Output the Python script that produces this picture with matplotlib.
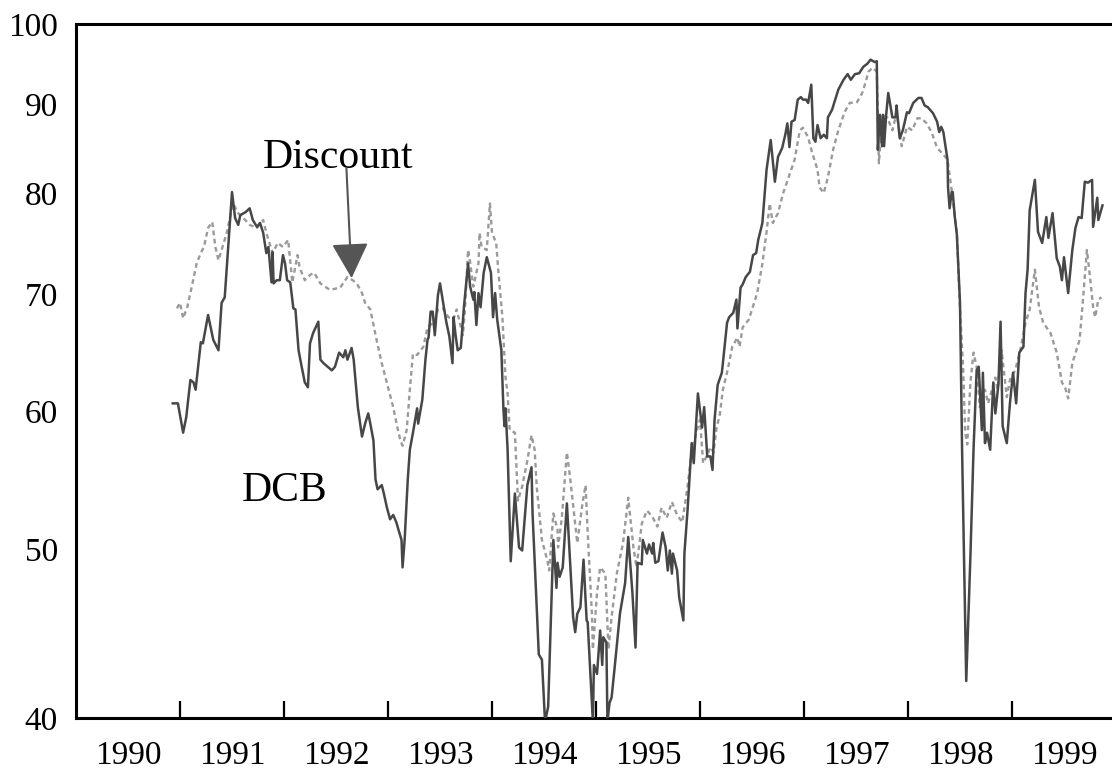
import matplotlib
matplotlib.use("Agg")
import matplotlib.pyplot as plt
from matplotlib.ticker import FixedLocator, NullFormatter, FixedFormatter, NullLocator

plt.rcParams['font.family'] = ['Liberation Serif', 'DejaVu Serif']

# DCB index (solid line), time in fractional years
dcb_t = [1990.93, 1990.98, 1991.03, 1991.06, 1991.10, 1991.13, 1991.15, 1991.20, 1991.22, 1991.27,
         1991.32, 1991.37, 1991.40, 1991.43, 1991.50, 1991.53, 1991.56, 1991.58, 1991.63, 1991.67,
         1991.70, 1991.74, 1991.77, 1991.80, 1991.83, 1991.85, 1991.88, 1991.89, 1991.90, 1991.93,
         1991.96, 1991.99, 1992.01, 1992.03, 1992.06, 1992.09, 1992.11, 1992.14, 1992.17, 1992.20,
         1992.23, 1992.25, 1992.28, 1992.33, 1992.35, 1992.38, 1992.42, 1992.46, 1992.49, 1992.53,
         1992.57, 1992.59, 1992.61, 1992.65, 1992.67, 1992.71, 1992.75, 1992.78, 1992.81, 1992.83,
         1992.86, 1992.88, 1992.90, 1992.94, 1992.96, 1992.99, 1993.02, 1993.05, 1993.08, 1993.10,
         1993.13, 1993.14, 1993.16, 1993.19, 1993.21, 1993.24, 1993.28, 1993.29, 1993.33, 1993.36,
         1993.38, 1993.39, 1993.41, 1993.43, 1993.45, 1993.48, 1993.50, 1993.53, 1993.56, 1993.59,
         1993.62, 1993.63, 1993.65, 1993.67, 1993.70, 1993.73, 1993.77, 1993.79, 1993.82, 1993.83,
         1993.85, 1993.87, 1993.89, 1993.92, 1993.95, 1993.99, 1994.01, 1994.03, 1994.05, 1994.09,
         1994.11, 1994.12, 1994.13, 1994.15, 1994.18, 1994.22, 1994.26, 1994.29, 1994.34, 1994.38,
         1994.39, 1994.43, 1994.45, 1994.48, 1994.51, 1994.54, 1994.59, 1994.62, 1994.63, 1994.65,
         1994.68, 1994.72, 1994.75, 1994.78, 1994.80, 1994.82, 1994.85, 1994.88, 1994.91, 1994.92,
         1994.97, 1994.98, 1995.01, 1995.04, 1995.06, 1995.07, 1995.10, 1995.11, 1995.13, 1995.15,
         1995.18, 1995.23, 1995.28, 1995.31, 1995.35, 1995.38, 1995.40, 1995.44, 1995.45, 1995.49,
         1995.51, 1995.54, 1995.55, 1995.57, 1995.60, 1995.64, 1995.67, 1995.69, 1995.71, 1995.73,
         1995.74, 1995.78, 1995.80, 1995.84, 1995.85, 1995.88, 1995.92, 1995.94, 1995.98, 1996.02,
         1996.04, 1996.07, 1996.10, 1996.12, 1996.14, 1996.17, 1996.21, 1996.22, 1996.26, 1996.28,
         1996.32, 1996.35, 1996.36, 1996.39, 1996.41, 1996.44, 1996.48, 1996.51, 1996.54, 1996.56,
         1996.60, 1996.63, 1996.64, 1996.68, 1996.72, 1996.75, 1996.79, 1996.82, 1996.84, 1996.86,
         1996.88, 1996.91, 1996.94, 1996.97, 1996.99, 1997.02, 1997.04, 1997.07, 1997.09, 1997.11,
         1997.13, 1997.16, 1997.19, 1997.22, 1997.23, 1997.27, 1997.30, 1997.33, 1997.38, 1997.42,
         1997.45, 1997.49, 1997.53, 1997.57, 1997.61, 1997.64, 1997.68, 1997.70, 1997.71, 1997.73,
         1997.75, 1997.76, 1997.77, 1997.79, 1997.81, 1997.85, 1997.88, 1997.89, 1997.92, 1997.95,
         1997.99, 1998.01, 1998.05, 1998.10, 1998.13, 1998.16, 1998.19, 1998.24, 1998.28, 1998.30,
         1998.32, 1998.34, 1998.38, 1998.385, 1998.40, 1998.42, 1998.43, 1998.45, 1998.47, 1998.50,
         1998.52, 1998.56, 1998.60, 1998.63, 1998.66, 1998.68, 1998.71, 1998.72, 1998.74, 1998.76,
         1998.79, 1998.82, 1998.84, 1998.87, 1998.89, 1998.91, 1998.95, 1998.98, 1999.01, 1999.04,
         1999.07, 1999.11, 1999.13, 1999.15, 1999.17, 1999.22, 1999.25, 1999.29, 1999.33, 1999.35,
         1999.39, 1999.43, 1999.46, 1999.48, 1999.50, 1999.54, 1999.58, 1999.61, 1999.64, 1999.67,
         1999.70, 1999.73, 1999.77, 1999.78, 1999.82, 1999.83, 1999.87]
dcb_v = [60.6, 60.6, 58.3, 59.5, 62.5, 62.3, 61.7, 65.7, 65.6, 68.1,
         65.9, 65.0, 69.2, 69.7, 80.1, 77.4, 76.7, 77.7, 78.0, 78.4,
         77.2, 76.5, 76.9, 75.9, 73.9, 74.5, 71.1, 74.0, 71.0, 71.3,
         71.3, 73.7, 72.9, 71.3, 71.1, 68.7, 68.6, 65.0, 63.6, 62.3,
         61.9, 65.6, 66.5, 67.5, 64.2, 63.9, 63.6, 63.3, 63.6, 64.8,
         64.4, 65.0, 64.2, 65.2, 64.2, 60.3, 58.0, 59.0, 59.8, 59.0,
         57.7, 54.8, 54.1, 54.4, 53.8, 52.8, 52.0, 52.3, 51.8, 51.3,
         50.6, 48.8, 50.6, 54.8, 57.0, 58.3, 60.2, 59.0, 60.9, 64.2,
         65.9, 66.1, 68.4, 68.4, 66.3, 69.9, 71.0, 69.2, 67.5, 66.2,
         63.9, 67.9, 66.3, 65.0, 65.2, 68.8, 72.9, 70.7, 69.5, 70.2,
         67.2, 70.1, 68.8, 72.0, 73.5, 72.0, 67.9, 70.1, 67.7, 65.0,
         60.1, 58.8, 60.2, 57.0, 49.2, 53.8, 50.1, 49.9, 54.4, 55.7,
         52.4, 46.3, 43.5, 43.2, 39.8, 40.6, 50.6, 47.5, 49.1, 48.2,
         48.8, 53.1, 49.3, 45.7, 44.8, 45.9, 46.3, 49.3, 45.5, 45.4,
         39.8, 42.9, 42.4, 44.9, 42.9, 44.5, 44.2, 39.8, 40.8, 41.1,
         42.8, 45.9, 47.8, 50.8, 47.2, 43.9, 49.1, 49.0, 50.6, 49.7,
         50.3, 49.7, 50.4, 49.1, 49.2, 51.1, 50.1, 48.6, 49.9, 48.4,
         49.7, 48.6, 46.9, 45.5, 49.7, 52.6, 57.5, 56.0, 61.4, 58.7,
         60.3, 56.5, 56.5, 55.5, 59.3, 62.1, 63.1, 63.9, 67.4, 67.9,
         68.3, 69.5, 66.9, 70.6, 70.9, 71.6, 72.1, 73.7, 73.9, 75.2,
         76.9, 81.1, 82.5, 85.8, 81.2, 83.9, 84.9, 86.4, 87.7, 85.0,
         87.9, 88.1, 90.5, 90.8, 90.5, 90.5, 90.1, 92.3, 86.0, 85.6,
         87.5, 86.0, 86.4, 86.0, 88.4, 89.3, 90.5, 91.7, 92.9, 93.6,
         92.9, 93.6, 93.7, 94.5, 94.9, 95.4, 95.1, 95.2, 84.7, 88.7,
         85.1, 88.7, 85.1, 88.7, 91.3, 88.4, 88.4, 89.8, 86.0, 86.9,
         89.0, 88.9, 90.1, 90.7, 90.7, 89.8, 89.6, 88.9, 87.9, 86.7,
         87.3, 86.7, 83.6, 80.6, 78.4, 80.1, 80.1, 77.5, 75.7, 69.2,
         57.0, 42.0, 49.5, 57.0, 63.3, 63.6, 58.5, 63.1, 57.5, 58.3,
         57.0, 62.3, 59.8, 62.2, 67.5, 58.8, 57.5, 60.6, 63.1, 60.6,
         64.8, 65.3, 70.1, 72.3, 78.2, 81.4, 76.0, 74.9, 77.5, 75.4,
         77.9, 73.4, 72.6, 71.3, 73.5, 70.1, 74.2, 76.4, 77.5, 77.4,
         81.2, 81.1, 81.4, 76.5, 79.5, 77.2, 78.7]

# Discount series (dotted line)
disc_t = [1990.97, 1991.00, 1991.03, 1991.07, 1991.12, 1991.16, 1991.20, 1991.23, 1991.27, 1991.31,
          1991.34, 1991.37, 1991.40, 1991.45, 1991.51, 1991.56, 1991.61, 1991.67, 1991.74, 1991.80,
          1991.83, 1991.89, 1991.94, 1991.99, 1992.04, 1992.08, 1992.13, 1992.15, 1992.20, 1992.25,
          1992.29, 1992.35, 1992.44, 1992.54, 1992.61, 1992.66, 1992.70, 1992.75, 1992.78, 1992.83,
          1992.89, 1992.94, 1993.00, 1993.05, 1993.09, 1993.12, 1993.14, 1993.18, 1993.21, 1993.24,
          1993.28, 1993.34, 1993.38, 1993.45, 1993.48, 1993.53, 1993.58, 1993.63, 1993.66, 1993.72,
          1993.74, 1993.77, 1993.79, 1993.82, 1993.87, 1993.88, 1993.90, 1993.95, 1993.98, 1994.00,
          1994.04, 1994.06, 1994.08, 1994.10, 1994.13, 1994.15, 1994.17, 1994.22, 1994.25, 1994.29,
          1994.34, 1994.38, 1994.41, 1994.43, 1994.48, 1994.53, 1994.55, 1994.59, 1994.63, 1994.635,
          1994.67, 1994.72, 1994.75, 1994.82, 1994.87, 1994.90, 1994.92, 1994.96, 1994.97, 1995.01,
          1995.04, 1995.09, 1995.12, 1995.15, 1995.20, 1995.26, 1995.31, 1995.36, 1995.39, 1995.44,
          1995.49, 1995.54, 1995.59, 1995.63, 1995.68, 1995.73, 1995.78, 1995.83, 1995.88, 1995.92,
          1995.97, 1996.00, 1996.03, 1996.07, 1996.10, 1996.13, 1996.16, 1996.19, 1996.22, 1996.27,
          1996.31, 1996.36, 1996.38, 1996.41, 1996.47, 1996.55, 1996.60, 1996.64, 1996.67, 1996.70,
          1996.75, 1996.80, 1996.85, 1996.91, 1996.96, 1996.99, 1997.04, 1997.08, 1997.13, 1997.15,
          1997.19, 1997.23, 1997.28, 1997.33, 1997.39, 1997.44, 1997.51, 1997.56, 1997.59, 1997.62,
          1997.66, 1997.70, 1997.72, 1997.75, 1997.80, 1997.85, 1997.89, 1997.94, 1997.99, 1998.04,
          1998.09, 1998.13, 1998.18, 1998.23, 1998.28, 1998.33, 1998.38, 1998.42, 1998.47, 1998.50,
          1998.53, 1998.55, 1998.57, 1998.60, 1998.63, 1998.66, 1998.69, 1998.74, 1998.77, 1998.84,
          1998.86, 1998.90, 1998.95, 1998.98, 1999.03, 1999.08, 1999.13, 1999.17, 1999.22, 1999.26,
          1999.30, 1999.37, 1999.43, 1999.48, 1999.51, 1999.54, 1999.58, 1999.63, 1999.65, 1999.68,
          1999.72, 1999.75, 1999.78, 1999.80, 1999.83, 1999.86]
disc_v = [68.7, 69.2, 67.8, 68.8, 71.0, 72.9, 73.9, 74.5, 76.4, 77.0,
          74.5, 73.2, 74.2, 75.9, 78.9, 77.9, 77.4, 76.7, 76.4, 77.2,
          75.9, 73.9, 74.9, 74.5, 75.2, 71.1, 73.7, 72.5, 71.3, 71.8,
          72.0, 71.0, 70.4, 70.6, 71.6, 71.3, 71.0, 70.1, 69.2, 68.6,
          65.9, 63.9, 61.9, 60.3, 58.7, 57.7, 57.3, 58.5, 61.7, 64.7,
          64.6, 65.3, 67.0, 67.5, 68.6, 68.7, 67.9, 67.7, 68.6, 66.3,
          68.6, 74.2, 73.0, 70.7, 72.9, 75.9, 74.5, 74.2, 78.9, 75.9,
          74.9, 72.3, 70.1, 67.9, 62.7, 61.4, 58.5, 58.3, 53.3, 54.3,
          56.2, 58.1, 57.0, 54.3, 50.6, 49.3, 48.6, 52.4, 51.3, 50.1,
          52.0, 56.8, 55.0, 50.4, 53.1, 54.4, 51.1, 46.0, 43.8, 47.2,
          48.8, 48.4, 43.8, 45.7, 48.4, 50.4, 53.5, 50.1, 48.8, 51.7,
          52.6, 52.2, 51.5, 52.8, 52.1, 53.2, 52.3, 51.8, 54.3, 56.8,
          58.5, 59.3, 56.0, 56.6, 57.2, 56.8, 58.7, 59.7, 61.7, 63.5,
          65.3, 66.1, 65.3, 67.0, 67.7, 70.1, 72.9, 76.0, 78.9, 76.9,
          77.9, 80.0, 81.6, 83.6, 86.9, 87.2, 86.1, 84.3, 82.5, 80.6,
          80.0, 81.7, 84.7, 86.9, 89.0, 90.1, 90.2, 91.3, 92.5, 93.9,
          94.4, 93.9, 83.2, 88.1, 88.4, 86.9, 88.9, 85.1, 87.3, 86.9,
          88.3, 88.3, 87.7, 86.6, 84.9, 84.3, 83.6, 80.3, 75.9, 68.6,
          63.6, 58.3, 57.4, 62.3, 64.8, 63.6, 60.3, 61.7, 60.6, 62.7,
          61.7, 65.0, 61.1, 62.5, 63.3, 65.0, 67.4, 68.6, 72.3, 68.8,
          67.4, 66.5, 64.8, 62.3, 61.9, 61.0, 63.9, 65.3, 65.9, 69.2,
          74.2, 71.6, 68.8, 67.9, 69.5, 69.7]

year_labels = ['1990', '1991', '1992', '1993', '1994', '1995', '1996', '1997', '1998', '1999']
y_ticks = [40, 50, 60, 70, 80, 90, 100]

W, H = 1112, 771
fig = plt.figure(figsize=(W / 100, H / 100), dpi=100)
# axes runs to 2000, a bit past the right edge of the picture
ax = fig.add_axes([76 / W, 53 / H, 1040 / W, 694 / H])

ax.plot(disc_t, disc_v, color='#9a9a9a', lw=1.7, linestyle=(0, (2.0, 1.5)), zorder=2)
ax.plot(dcb_t, dcb_v, color='#474747', lw=1.8, zorder=3)

ax.set_yscale('log')
ax.set_ylim(40, 100)
ax.set_xlim(1990, 2000)
ax.yaxis.set_major_locator(FixedLocator(y_ticks))
ax.yaxis.set_major_formatter(FixedFormatter([str(v) for v in y_ticks]))
ax.yaxis.set_minor_locator(NullLocator())
ax.yaxis.set_minor_formatter(NullFormatter())
ax.tick_params(axis='y', which='major', length=0, pad=13, labelsize=24)

# ticks on year boundaries, labels in the middle of each year
ax.xaxis.set_major_locator(FixedLocator([1991 + i for i in range(9)]))
ax.xaxis.set_major_formatter(NullFormatter())
ax.xaxis.set_minor_locator(FixedLocator([1990.5 + i for i in range(10)]))
ax.xaxis.set_minor_formatter(FixedFormatter(year_labels))
ax.tick_params(axis='x', which='major', direction='in', length=12, width=1.6, color='black')
ax.tick_params(axis='x', which='minor', length=0, pad=16.5, labelsize=24)

for s in ['left', 'bottom', 'top']:
    ax.spines[s].set_linewidth(2.2)
ax.spines['right'].set_visible(False)

ax.text(1992.52, 83.8, 'Discount', fontsize=30, ha='center', va='center')
ax.text(1992.01, 54.0, 'DCB', fontsize=30, ha='center', va='center')
ax.annotate('', xy=(1992.65, 71.5), xytext=(1992.60, 82.7),
            arrowprops=dict(arrowstyle='-|>,head_length=2.2,head_width=1.15',
                            color='#555555', lw=1.5, shrinkA=0, shrinkB=0,
                            mutation_scale=10))

fig.savefig('out.png', dpi=100)
